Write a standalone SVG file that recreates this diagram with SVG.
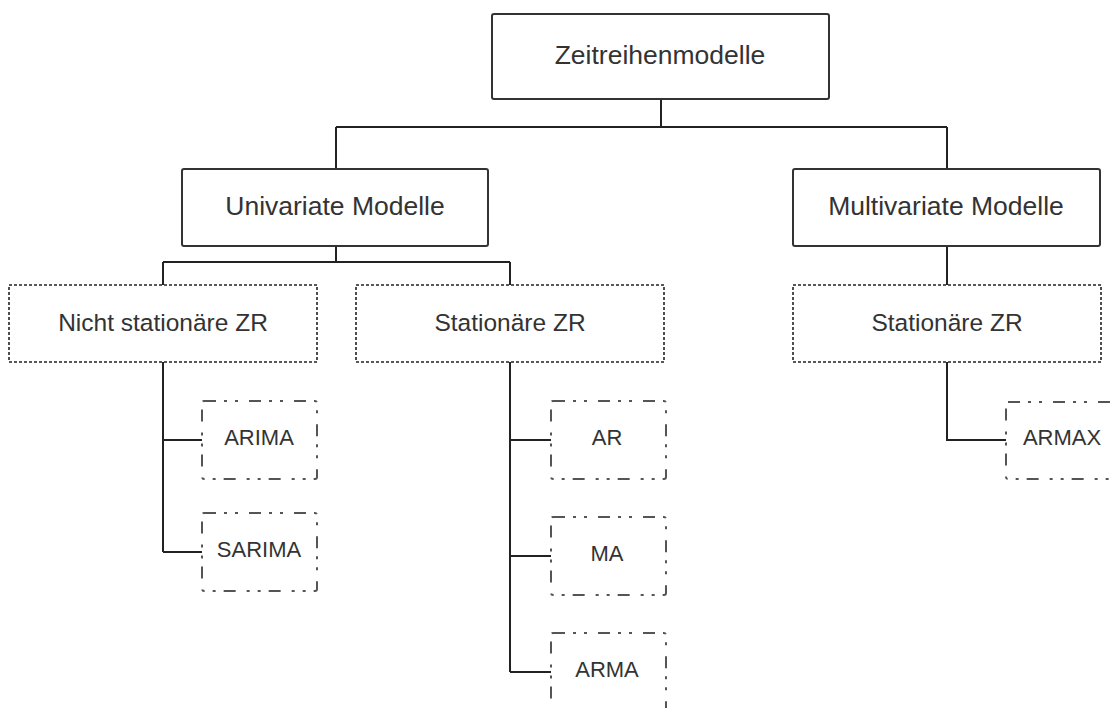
<svg xmlns="http://www.w3.org/2000/svg" width="1115" height="708" viewBox="0 0 1115 708">
  <style>
    .solid { fill: #fff; stroke: #333; stroke-width: 2; }
    .dotted { fill: #fff; stroke: #222; stroke-width: 1.6; stroke-dasharray: 3 2; }
    .dashdot { fill: #fff; stroke: #555; stroke-width: 2; stroke-dasharray: 12 8 3 8 3 11; }
    .wire { fill: none; stroke: #222; stroke-width: 2; }
    text { font-family: "Liberation Sans", Arial, sans-serif; fill: #333; text-anchor: middle; }
    .t1 { font-size: 26.5px; }
    .t2 { font-size: 24.5px; }
    .t3 { font-size: 22px; }
  </style>
  <rect width="1115" height="708" fill="#fff"/>

  <g id="connectors">
    <path class="wire" d="M661 99 V127 M336 127 H947 M336 127 V169 M947 127 V169"/>
    <path class="wire" d="M336 246 V262 M163 262 H510 M163 262 V285 M510 262 V285"/>
    <path class="wire" d="M163 362 V552 M163 440 H202 M163 552 H202"/>
    <path class="wire" d="M510 362 V672 M510 440 H551 M510 556 H551 M510 672 H551"/>
    <path class="wire" d="M947 246 V285 M947 362 V440 H1006"/>
  </g>

  <g id="zeitreihenmodelle">
    <rect class="solid" x="492" y="14" width="337" height="85" rx="2"/>
    <text class="t1" x="660" y="64">Zeitreihenmodelle</text>
  </g>
  <g id="univariate">
    <rect class="solid" x="182" y="169" width="306" height="77" rx="2"/>
    <text class="t1" x="335" y="215">Univariate Modelle</text>
  </g>
  <g id="multivariate">
    <rect class="solid" x="793" y="169" width="307" height="77" rx="2"/>
    <text class="t1" x="946" y="215">Multivariate Modelle</text>
  </g>
  <g id="nicht-stationaer">
    <rect class="dotted" x="9" y="285" width="308" height="77"/>
    <text class="t2" x="163" y="331">Nicht stationäre ZR</text>
  </g>
  <g id="stationaer-uni">
    <rect class="dotted" x="356" y="285" width="308" height="77"/>
    <text class="t2" x="510" y="331">Stationäre ZR</text>
  </g>
  <g id="stationaer-multi">
    <rect class="dotted" x="793" y="285" width="308" height="77"/>
    <text class="t2" x="947" y="331">Stationäre ZR</text>
  </g>
  <g id="arima">
    <rect class="dashdot" x="202" y="401" width="115" height="78" rx="2"/>
    <text class="t3" x="259" y="445">ARIMA</text>
  </g>
  <g id="sarima">
    <rect class="dashdot" x="202" y="513" width="115" height="78" rx="2"/>
    <text class="t3" x="259" y="557">SARIMA</text>
  </g>
  <g id="ar">
    <rect class="dashdot" x="551" y="401" width="115" height="78" rx="2"/>
    <text class="t3" x="607" y="445">AR</text>
  </g>
  <g id="ma">
    <rect class="dashdot" x="551" y="517" width="115" height="78" rx="2"/>
    <text class="t3" x="607" y="561">MA</text>
  </g>
  <g id="arma">
    <rect class="dashdot" x="551" y="633" width="115" height="78" rx="2"/>
    <text class="t3" x="607" y="677">ARMA</text>
  </g>
  <g id="armax">
    <rect class="dashdot" x="1006" y="402" width="115" height="77" rx="2"/>
    <text class="t3" x="1062" y="445">ARMAX</text>
  </g>
</svg>
